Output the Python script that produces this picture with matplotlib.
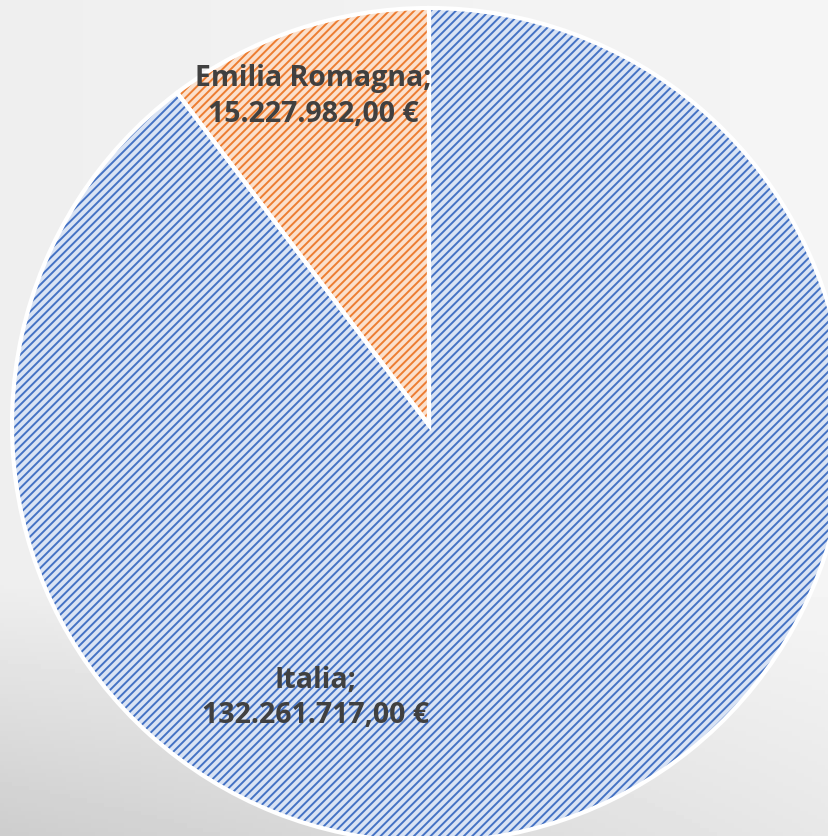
import numpy as np
import matplotlib.pyplot as plt

labels = ["Emilia Romagna", "Italia"]
values = [15227982.00, 132261717.00]
fill_colors = ["#fbe0cc", "#d9e3f4"]
hatch_colors = ["#ed7d31", "#4472c4"]

def euro(v):
    s = f"{v:,.2f}".replace(",", "X").replace(".", ",").replace("X", ".")
    return s + " €"

plt.rcParams['hatch.linewidth'] = 1.4

fig = plt.figure(figsize=(8.29, 8.37), dpi=100)

# light grey background with a soft gradient
bg = fig.add_axes([0, 0, 1, 1])
yy, xx = np.mgrid[0:1:200j, 0:1:200j]
shade = 0.935 + 0.025 * xx - 0.13 * np.clip(0.3 - yy, 0, 1) / 0.3 * (1 - 0.6 * xx)
bg.imshow(shade, cmap="gray", vmin=0, vmax=1, extent=[0, 1, 0, 1],
          aspect="auto", origin="lower")
bg.axis("off")

# pie axes: centre at (429, 426) px, radius 417 px
W, H = 829, 837
cx, cy, r = 429, 426, 417
ax = fig.add_axes([(cx - r) / W, (H - cy - r) / H, 2 * r / W, 2 * r / H])

wedges, _ = ax.pie(values, startangle=90, counterclock=True, radius=1,
                   colors=fill_colors, wedgeprops=dict(linewidth=0))
for w, hc in zip(wedges, hatch_colors):
    w.set_hatch("////")
    w.set_edgecolor(hc)
ax.pie(values, startangle=90, counterclock=True, radius=1,
       wedgeprops=dict(fill=False, edgecolor="white", linewidth=3))
ax.set_xlim(-1, 1)
ax.set_ylim(-1, 1)
ax.axis("off")

label_pos = [(-0.278, 0.79), (-0.273, -0.652)]
for lab, v, (x, y) in zip(labels, values, label_pos):
    ax.text(x, y, f"{lab};\n{euro(v)}", ha="center", va="center",
            fontsize=20.5, fontweight="bold", color="#404040",
            family="Open Sans", linespacing=1.3)

fig.savefig("out.png", dpi=100)
